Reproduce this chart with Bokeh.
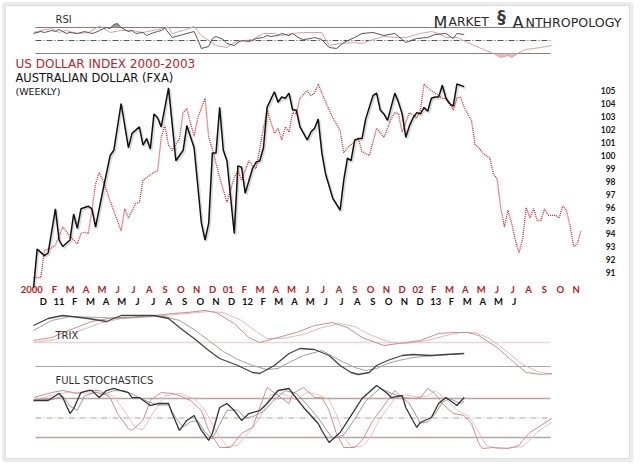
from bokeh.plotting import figure
from bokeh.models import Range1d
from bokeh.core.properties import value
from bokeh.embed import file_html
from bokeh.resources import INLINE

# ---------------- data ----------------
# US Dollar Index 2000-2002, weekly (week 0 = first week of Jan 2000)
dxy_weeks = [0, 2, 3, 5, 6, 8, 10, 12, 13, 14, 15, 16, 17, 18, 19, 21, 24, 25, 26, 28,
             29, 30, 32, 33, 34, 35, 36, 37, 38, 40, 41, 42, 43, 44, 45, 47, 48, 49, 51, 53,
             55, 56, 57, 59, 60, 61, 63, 64, 66, 67, 68, 69, 70, 71, 72, 73, 75, 76, 77, 78,
             79, 81, 82, 84, 85, 86, 89, 90, 92, 93, 94, 96, 98, 99, 100, 101, 103, 105, 106, 107,
             108, 111, 112, 113, 115, 116, 117, 118, 120, 121, 122, 123, 125, 126, 127,
             128, 129, 130, 131, 132, 133, 134, 135, 136, 137, 138, 139, 140, 141, 142, 143,
             144, 145, 146, 147, 148, 149, 150]
dxy_vals = [90.6, 90.6, 92.7, 92.9, 93.1, 94.5, 93.8, 93.2, 94.0, 94.1, 94.0, 95.8, 97.8, 98.7, 98.1, 96.5, 94.2, 95.9, 95.2, 96.3,
            96.4, 98.1, 98.5, 98.7, 98.8, 101.4, 102.3, 100.8, 100.4, 101.3, 103.3, 103.6, 102.5, 101.5, 102.9, 104.4, 101.4, 100.5, 98.3, 96.4,
            98.3, 98.8, 98.1, 99.6, 99.2, 99.0, 102.1, 103.5, 101.7, 102.1, 101.2, 102.2, 101.8, 103.3, 103.2, 104.4, 105.0, 104.6, 104.8, 105.5,
            104.8, 103.5, 102.9, 101.9, 100.2, 100.6, 101.3, 100.3, 100.0, 101.0, 102.1, 101.4, 102.8, 103.3, 103.2, 101.8, 103.3, 102.9, 103.5, 105.5,
            105.2, 104.6, 104.4, 104.4, 103.5, 104.4, 104.5, 103.7, 102.7, 100.8, 100.6, 100.2, 99.8, 98.6, 98.2,
            96.0, 94.5, 95.8, 94.8, 93.5, 92.5, 93.6, 96.0, 95.2, 95.9, 95.0, 95.0, 95.9, 95.4, 95.4, 95.4,
            95.2, 96.1, 95.8, 94.6, 93.0, 93.2, 94.2]

# Australian Dollar (FXA) Dec 2010 - Feb 2013, weekly, in the chart's price units
fxa_weeks = [0, 1, 3, 4, 6, 7, 8, 10, 11, 12, 13, 15, 16, 17, 19, 21, 22, 24, 26, 27,
             29, 30, 31, 32, 33, 34, 35, 37, 39, 41, 42, 44, 46, 47, 48, 49, 50, 51, 52, 53,
             55, 56, 57, 58, 60, 61, 62, 63, 64, 66, 67, 68, 69, 70, 71, 72, 73, 75, 76, 77,
             78, 79, 80, 82, 84, 85, 86, 87, 88, 89, 90, 91, 93, 94, 95, 96, 97, 99, 100, 101,
             102, 103, 104, 105, 106, 107, 108, 109, 110, 111, 112, 113, 114, 115, 116, 118]
fxa_vals = [89.8, 92.8, 92.3, 92.5, 95.9, 93.5, 93.0, 93.5, 95.5, 94.4, 95.9, 96.1, 95.9, 94.5, 97.3, 100.0, 100.4, 104.0, 100.6, 101.7,
            102.2, 100.8, 101.3, 100.5, 103.2, 102.9, 102.2, 105.2, 99.6, 100.4, 102.3, 100.6, 94.8, 93.5, 94.8, 100.2, 100.2, 103.7, 100.4, 99.6,
            94.0, 99.2, 99.1, 97.1, 99.0, 99.5, 99.6, 100.6, 103.7, 104.9, 104.1, 104.5, 104.4, 104.8, 103.5, 103.5, 102.2, 101.2, 101.8, 102.1,
            102.8, 100.2, 98.6, 96.7, 95.8, 98.1, 99.8, 99.6, 101.2, 101.3, 101.3, 102.8, 104.6, 104.8, 103.5, 103.2, 102.7, 104.8, 104.1, 103.2,
            101.4, 102.3, 102.9, 103.3, 103.2, 103.7, 103.4, 104.4, 104.5, 104.5, 105.4, 104.4, 104.0, 103.8, 105.5, 105.3]

price_ticks = [91, 92, 93, 94, 95, 96, 97, 98, 99, 100, 101, 102, 103, 104, 105]
red_month_labels = ["2000", "F", "M", "A", "M", "J", "J", "A", "S", "O", "N", "D",
                    "01", "F", "M", "A", "M", "J", "J", "A", "S", "O", "N", "D",
                    "02", "F", "M", "A", "M", "J", "J", "A", "S", "O", "N"]
black_month_labels = ["D", "11", "F", "M", "A", "M", "J", "J", "A", "S", "O", "N",
                      "D", "12", "F", "M", "A", "M", "J", "J", "A", "S", "O", "N",
                      "D", "13", "F", "M", "A", "M", "J"]

# RSI
rsi_blk_w = [0, 2, 3, 5, 6, 7, 9, 10, 12, 13, 14, 16, 17, 18, 20, 21, 22, 23, 24, 26,
             27, 28, 30, 31, 33, 34, 35, 36, 38, 39, 41, 42, 44, 45, 46, 48, 49, 50, 52, 53,
             55, 56, 57, 59, 60, 61, 63, 64, 65, 67, 68, 70, 71, 73, 74, 76, 77, 79, 81, 83,
             85, 88, 90, 93, 96, 99, 102, 105, 108, 110, 113, 115, 116, 118]
rsi_blk_v = [60.8, 63.8, 62.3, 65.4, 63.8, 66.9, 60.8, 62.3, 60.8, 62.3, 63.8, 60.8, 62.3, 65.4, 70, 68.5, 74.6, 76.2, 70, 63.8,
             65.4, 60.8, 62.3, 57.7, 62.3, 63.8, 65.4, 69.0, 54.6, 56.2, 59.2, 60.8, 63.8, 51.5, 37.7, 40.8, 53.1, 56.2, 51.5, 45.4,
             42.3, 46.9, 50, 48.5, 50, 53.1, 54.6, 57.7, 56.2, 57.7, 60.8, 57.7, 60.8, 53.1, 51.5, 53.1, 54.6, 51.5, 39.2, 37.7,
             46.9, 54.6, 60.8, 62.3, 57.7, 60.8, 46.9, 53.1, 54.6, 59.2, 60.8, 53.1, 60.8, 59.2]
rsi_red_w = [0, 2, 5, 7, 9, 12, 15, 18, 19, 21, 24, 27, 30, 34, 37, 38, 41, 44, 46, 48,
             50, 53, 55, 58, 60, 63, 66, 68, 71, 74, 77, 79, 81, 84, 88, 90, 93, 96, 100, 102,
             106, 109, 111, 113, 116, 119, 122, 124, 126, 128, 130, 131, 133, 135, 137, 139, 142]
rsi_red_v = [62.3, 65.4, 68.5, 62.3, 65.4, 60.8, 62.3, 72.0, 70, 62.3, 65.4, 65.4, 62.3, 66.9, 70, 60.8, 65.4, 71.5, 57.7, 50,
             42.3, 39.2, 46.9, 50, 51.5, 60.8, 60.8, 57.7, 60.8, 62.3, 62.3, 62.3, 42.3, 45.4, 46.9, 45.4, 51.5, 56.2, 54.6, 54.6,
             60.8, 63.8, 60.8, 54.6, 54.6, 46.9, 39.2, 34.6, 30, 23.8, 26.9, 23.8, 31.5, 36.2, 37.7, 39.2, 42.3]

# TRIX (panel units)
trix_blk_w = [0, 4, 8, 15, 20, 24, 33, 37, 40, 44, 48, 51, 56, 60, 62, 66, 70, 73, 77, 79,
              81, 84, 87, 89, 92, 94, 97, 101, 104, 109, 113, 118]
trix_blk_v = [2.05, 2.4, 2.55, 2.4, 2.25, 2.55, 2.55, 2.4, 1.95, 1.4, 0.8, 0.4, 0.05, -0.3, -0.35, 0.05, 0.65, 0.9, 0.85, 0.7,
              0.55, 0.05, -0.3, -0.4, -0.3, 0.05, 0.3, 0.55, 0.6, 0.55, 0.6, 0.65]
trix_bsig_w = [0, 5, 10, 18, 24, 30, 36, 40, 44, 48, 52, 56, 60, 64, 67, 70, 74, 79, 84, 88,
               91, 94, 97, 100, 104, 110, 118]
trix_bsig_v = [1.8, 2.3, 2.5, 2.45, 2.4, 2.5, 2.5, 2.3, 1.85, 1.3, 0.75, 0.35, 0.05, -0.15, -0.1, 0.2, 0.55, 0.8, 0.3, -0.05,
               -0.2, -0.1, 0.15, 0.3, 0.45, 0.55, 0.65]
trix_red_w = [0, 5, 11, 16, 22, 27, 33, 38, 42, 47, 50, 55, 59, 62, 66, 72, 77, 82, 86, 90,
              96, 100, 106, 111, 115, 119, 122, 127, 132, 135, 139, 142]
trix_red_v = [1.3, 1.45, 1.9, 2.25, 2.45, 2.45, 2.55, 2.65, 2.7, 2.8, 2.7, 2.15, 1.45, 1.2, 1.4, 1.7, 2.05, 2.2, 1.95, 1.45,
              1.05, 1.15, 1.3, 1.65, 1.7, 1.7, 1.55, 0.95, 0.15, -0.3, -0.4, -0.35]
trix_rsig_w = [0, 6, 12, 18, 24, 30, 36, 42, 48, 52, 57, 61, 64, 68, 74, 79, 84, 88, 92, 98,
               102, 108, 113, 117, 121, 125, 130, 134, 138, 142]
trix_rsig_v = [1.2, 1.35, 1.75, 2.15, 2.4, 2.45, 2.55, 2.65, 2.75, 2.7, 2.3, 1.75, 1.4, 1.4, 1.6, 1.95, 2.15, 2.0, 1.6, 1.2,
               1.15, 1.3, 1.55, 1.7, 1.7, 1.4, 0.7, 0.1, -0.25, -0.4]

# Full stochastics
st_blk_w = [0, 4, 7, 8, 10, 11, 13, 15, 16, 18, 20, 22, 24, 26, 27, 29, 32, 34, 37, 38,
            40, 42, 44, 46, 48, 49, 51, 53, 55, 57, 59, 62, 64, 67, 70, 71, 74, 78, 79, 81,
            84, 87, 90, 94, 97, 98, 101, 102, 105, 106, 109, 111, 113, 116, 118]
st_blk_v = [76.9, 76.9, 87.7, 81.5, 56.9, 64.6, 89.2, 92.3, 92.3, 81.5, 92.3, 95.4, 92.3, 89.2, 81.5, 81.5, 69.2, 72.3, 72.3, 56.9,
            30.8, 46.2, 53.8, 30.8, 15.4, 26.2, 66.2, 72.3, 61.5, 46.2, 56.9, 61.5, 72.3, 92.3, 95.4, 87.7, 66.2, 41.5, 30.8, 12.3,
            27.7, 53.8, 80, 100, 87.7, 81.5, 84.6, 66.2, 35.4, 43.1, 50.8, 72.3, 81.5, 69.2, 81.5]
st_bsig_w = [0, 5, 8, 10, 12, 14, 17, 19, 22, 25, 28, 31, 34, 37, 39, 41, 43, 45, 47, 49,
             51, 53, 56, 58, 60, 63, 66, 69, 72, 75, 78, 80, 82, 85, 88, 91, 95, 98, 101, 103,
             106, 108, 110, 112, 114, 117, 118]
st_bsig_v = [78, 78, 84, 68, 62, 84, 90, 86, 92, 92, 84, 76, 70, 70, 50, 36, 44, 46, 28, 18,
             40, 62, 62, 50, 52, 60, 78, 92, 88, 70, 50, 34, 18, 24, 48, 76, 96, 88, 82, 72,
             42, 44, 56, 74, 80, 72, 76]
st_red_w = [0, 5, 8, 12, 15, 18, 21, 23, 26, 27, 30, 32, 35, 38, 40, 43, 46, 48, 51, 54,
            57, 60, 64, 67, 70, 71, 74, 77, 79, 81, 83, 85, 88, 90, 93, 97, 99, 101, 104, 106,
            108, 110, 112, 115, 118, 120, 122, 123, 126, 130, 133, 134, 136, 139, 142]
st_red_v = [81.5, 89.2, 92.3, 87.7, 92.3, 92.3, 81.5, 56.9, 33.8, 30.8, 46.2, 76.9, 89.2, 87.7, 84.6, 76.9, 61.5, 30.8, 4.6, 4.6,
            26.2, 35.4, 96.9, 84.6, 72.3, 87.7, 96.9, 81.5, 81.5, 61.5, 26.2, 4.6, 4.6, 15.4, 46.2, 76.9, 92.3, 81.5, 80, 81.5,
            95.4, 87.7, 72.3, 56.9, 53.8, 41.5, 10.8, 3.1, 4.6, 3.1, 7.7, 15.4, 27.7, 38.5, 49.2]
st_rsig_w = [0, 6, 10, 14, 18, 22, 25, 28, 30, 33, 36, 40, 44, 47, 50, 53, 56, 59, 62, 65,
             68, 72, 75, 78, 81, 83, 85, 87, 90, 92, 95, 99, 102, 105, 108, 110, 113, 116, 119, 121,
             124, 127, 131, 134, 136, 138, 140, 142]
st_rsig_v = [78, 86, 90, 88, 90, 84, 60, 34, 32, 60, 84, 88, 80, 62, 30, 6, 8, 28, 50, 86,
             88, 78, 90, 86, 78, 56, 22, 6, 6, 18, 50, 80, 86, 82, 84, 92, 80, 62, 54, 38,
             8, 3, 4, 6, 16, 28, 36, 44]

# ---------------- layout ----------------
W, H = 640, 466
OFF = 0            # figure sits at the page's top-left corner
PX0, PXW = 33.0, 3.65   # page x of week 0 and pixels per week


def wx(X):
    return (X - PX0) / PXW


def yrange(v1, y1, v2, y2, shift=0.0):
    s = (v2 - v1) / (y2 - y1)
    top = v1 + (OFF - shift - y1) * s
    bot = v1 + (OFF + H - shift - y1) * s
    return Range1d(bot, top)


def vy(Y):  # main-panel value at page y
    return 105 - (Y - 90) / 13.0


p = figure(width=W, height=H, x_range=Range1d(wx(OFF), wx(OFF + W)),
           y_range=yrange(105, 90, 91, 272), output_backend="svg",
           toolbar_location=None, x_axis_type=None, y_axis_type=None,
           min_border=0)
p.background_fill_color = "white"
p.border_fill_color = "white"
p.outline_line_color = None
p.extra_y_ranges = {
    "rsi": yrange(70, 27, 30, 53),
    "trix": yrange(0, 366, 2.5, 316),
    "stoch": yrange(80, 398, 20, 437),
    "shadow": yrange(105, 90, 91, 272, shift=1.5),
}
p.extra_x_ranges = {"shadow": Range1d(wx(OFF - 1.2), wx(OFF + W - 1.2))}

# card frame
p.quad(left=[wx(3.5)], right=[wx(631)], top=[vy(3.5)], bottom=[vy(460)],
       fill_color=None, line_color="#ebebeb", line_width=3.5)
p.quad(left=[wx(5)], right=[wx(629)], top=[vy(5)], bottom=[vy(458)],
       fill_color=None, line_color="#dedede", line_width=1)

L, R = wx(35), wx(550)

# ---- main panel ----
p.line(fxa_weeks, fxa_vals, x_range_name="shadow", y_range_name="shadow",
       color="#9a9a9a", alpha=0.35, line_width=2.4)
p.line(dxy_weeks, dxy_vals, color="#d42a2a", line_width=1.3, line_dash="1 1")
p.line(fxa_weeks, fxa_vals, color="#111111", line_width=1.5)

p.text(x=[wx(615)] * len(price_ticks), y=price_ticks, text=[str(t) for t in price_ticks],
       text_font=value("Lato"), text_font_style="bold", text_font_size="8.5px",
       text_color="#1a1a1a", text_align="right", text_baseline="middle")

red_label_x = [-0.5] + [1.42 + 4.33 * i for i in range(1, len(red_month_labels))]
p.text(x=red_label_x,
       y=[vy(289)] * len(red_month_labels), text=red_month_labels,
       text_font=value("Lato"), text_font_style="bold", text_font_size="9.5px",
       text_color="#b22222", text_align="center", text_baseline="middle")
p.text(x=[2.7 + 4.3 * i for i in range(len(black_month_labels))],
       y=[vy(301)] * len(black_month_labels), text=black_month_labels,
       text_font=value("Lato"), text_font_style="bold", text_font_size="9.5px",
       text_color="#111111", text_align="center", text_baseline="middle")

# ---- RSI panel ----
p.segment(x0=[L, L], y0=[70, 30], x1=[R, R], y1=[70, 30], y_range_name="rsi",
          color="#8a7c7c", line_width=1.2)
p.segment(x0=[L], y0=[50], x1=[R], y1=[50], y_range_name="rsi",
          color="#555555", line_width=1, line_dash="6 2 1 2")
p.varea(x=rsi_blk_w, y1=[70] * len(rsi_blk_v), y2=[max(v, 70) for v in rsi_blk_v],
        y_range_name="rsi", color="#8c8c8c", alpha=0.85)
p.varea(x=rsi_red_w, y1=[min(v, 30) for v in rsi_red_v], y2=[30] * len(rsi_red_v),
        y_range_name="rsi", color="#e6b4b4", alpha=0.9)
p.line(rsi_red_w, rsi_red_v, y_range_name="rsi", color="#dca0a0", line_width=1)
p.line(rsi_blk_w, rsi_blk_v, y_range_name="rsi", color="#555555", line_width=1)

# ---- TRIX panel ----
p.segment(x0=[L], y0=[1.2], x1=[R], y1=[1.2], y_range_name="trix",
          color="#f0d4d4", line_width=1.6)
p.segment(x0=[L], y0=[0], x1=[R], y1=[0], y_range_name="trix",
          color="#a8a8a8", line_width=1)
p.line(trix_rsig_w, trix_rsig_v, y_range_name="trix", color="#e6b9b9", line_width=1)
p.line(trix_red_w, trix_red_v, y_range_name="trix", color="#cf8d8d", line_width=1)
p.line(trix_bsig_w, trix_bsig_v, y_range_name="trix", color="#a0a0a0", line_width=1)
p.line(trix_blk_w, trix_blk_v, y_range_name="trix", color="#444444", line_width=1.3)

# ---- Stochastics panel ----
p.segment(x0=[L, L], y0=[80, 20], x1=[R, R], y1=[80, 20], y_range_name="stoch",
          color="#b9a3a3", line_width=1.6)
p.segment(x0=[L], y0=[50], x1=[R], y1=[50], y_range_name="stoch",
          color="#c09a9a", line_width=1, line_dash="6 2 1 2")
p.line(st_rsig_w, st_rsig_v, y_range_name="stoch", color="#ebc2c2", line_width=1)
p.line(st_red_w, st_red_v, y_range_name="stoch", color="#d38e8e", line_width=1)
p.line(st_bsig_w, st_bsig_v, y_range_name="stoch", color="#9a9a9a", line_width=1)
p.line(st_blk_w, st_blk_v, y_range_name="stoch", color="#333333", line_width=1.3)

# ---- texts ----
def txt(X, Y, s, size, color="#1a1a1a", font="DejaVu Sans", style="normal",
        align="left", baseline="middle"):
    p.text(x=[wx(X)], y=[vy(Y)], text=[s], text_font=value(font), text_font_size=size,
           text_font_style=style, text_color=color, text_align=align, text_baseline=baseline)


txt(15, 63.5, "US DOLLAR INDEX 2000-2003", "12px", color="#b3262a")
txt(15, 77, "AUSTRALIAN DOLLAR (FXA)", "11.5px", color="#111111")
txt(15, 90.5, "(WEEKLY)", "9.5px", color="#111111")
txt(55, 18.5, "RSI", "10px", color="#333333")
txt(55, 335, "TRIX", "10px", color="#333333")
txt(55, 380, "FULL STOCHASTICS", "10px", color="#333333")

# logo
txt(433, 21.5, "M", "16px", baseline="alphabetic", color="#2a2a2a")
txt(448, 21.5, "ARKET", "12.3px", baseline="alphabetic", color="#2a2a2a")
txt(501, 16, "§", "17px", style="bold", align="center", color="#3a3a3a")
txt(512, 21.5, "A", "16px", baseline="alphabetic", color="#2a2a2a")
txt(525, 21.5, "NTHROPOLOGY", "12.6px", baseline="alphabetic", color="#2a2a2a")

open("out.html", "w").write(file_html(p, INLINE))
